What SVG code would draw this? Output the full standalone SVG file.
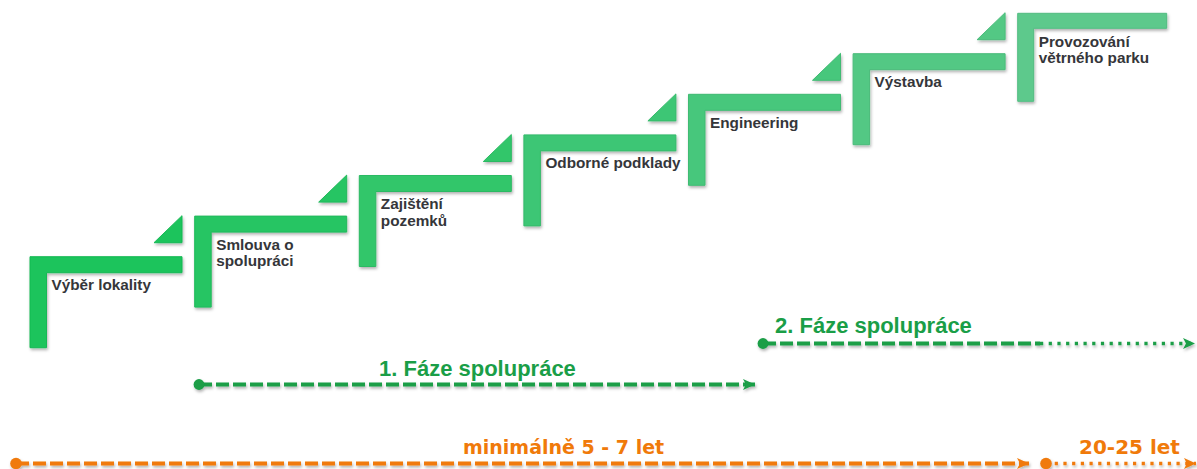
<svg xmlns="http://www.w3.org/2000/svg" width="1197" height="469" viewBox="0 0 1197 469">
  <defs>
    <filter id="sh" x="-10%" y="-20%" width="120%" height="160%">
      <feDropShadow dx="1" dy="2" stdDeviation="1.4" flood-color="#000" flood-opacity="0.3"/>
    </filter>
    <marker id="arrG" markerUnits="userSpaceOnUse" markerWidth="13" markerHeight="12" refX="12" refY="5.5" orient="auto">
      <path d="M0,0 L12,5.5 L0,11 L3,5.5 Z" fill="#1A9E47"/>
    </marker>
    <marker id="arrO" markerUnits="userSpaceOnUse" markerWidth="13" markerHeight="12" refX="12" refY="5.5" orient="auto">
      <path d="M0,0 L12,5.5 L0,11 L3,5.5 Z" fill="#F07A0A"/>
    </marker>
  </defs>
  <style>
    .step { filter: url(#sh); stroke-width: 1; }
    .lbl { font-family: "Liberation Sans", Arial, sans-serif; font-weight: bold; font-size: 15.3px; fill: #35363a; }
    .phase { font-family: "Liberation Sans", Arial, sans-serif; font-weight: bold; font-size: 22px; fill: #1A9E47; }
    .time { font-family: "DejaVu Sans", sans-serif; font-weight: bold; fill: #F07A0A; }
    .g { stroke: #1A9E47; stroke-width: 4; fill: none; }
    .o { stroke: #F07A0A; stroke-width: 4; fill: none; }
    .dash { stroke-dasharray: 13 4; }
    .dot { stroke-dasharray: 3.2 5.5; stroke-width: 3.4; }
    .tl { filter: url(#sh); }
  </style>

  <g id="step1" transform="translate(30,256.7)">
    <path class="step" fill="#1BC45B" stroke="#19B955" d="M0,0 H152 V16 H16.5 V91 H0 Z M152,-41 V-14 H124 Z"/>
    <text class="lbl" x="21.5" y="33.5">Výběr lokality</text>
  </g>
  <g id="step2" transform="translate(194.7,216.1)">
    <path class="step" fill="#26C563" stroke="#22B95C" d="M0,0 H152 V16 H16.5 V91 H0 Z M152,-41 V-14 H124 Z"/>
    <text class="lbl" x="21.5" y="33.5">Smlouva o</text>
    <text class="lbl" x="21.5" y="50">spolupráci</text>
  </g>
  <g id="step3" transform="translate(359.3,175.5)">
    <path class="step" fill="#31C66B" stroke="#2CBA63" d="M0,0 H152 V16 H16.5 V91 H0 Z M152,-41 V-14 H124 Z"/>
    <text class="lbl" x="21.5" y="33.5">Zajištění</text>
    <text class="lbl" x="21.5" y="50">pozemků</text>
  </g>
  <g id="step4" transform="translate(523.9,134.9)">
    <path class="step" fill="#3CC674" stroke="#36BA6B" d="M0,0 H152 V16 H16.5 V91 H0 Z M152,-41 V-14 H124 Z"/>
    <text class="lbl" x="21.5" y="33.5">Odborné podklady</text>
  </g>
  <g id="step5" transform="translate(688.5,94.3)">
    <path class="step" fill="#47C77C" stroke="#40BB73" d="M0,0 H152 V16 H16.5 V91 H0 Z M152,-41 V-14 H124 Z"/>
    <text class="lbl" x="21.5" y="33.5">Engineering</text>
  </g>
  <g id="step6" transform="translate(853.1,53.7)">
    <path class="step" fill="#52C884" stroke="#4ABC7B" d="M0,0 H152 V16 H16.5 V91 H0 Z M152,-41 V-14 H124 Z"/>
    <text class="lbl" x="21.5" y="33.5">Výstavba</text>
  </g>
  <g id="step7" transform="translate(1017.7,13.3)">
    <path class="step" fill="#5DC98C" stroke="#53BD82" d="M0,0 H149 V15 H16 V88 H0 Z"/>
    <text class="lbl" x="21" y="33.5">Provozování</text>
    <text class="lbl" x="21" y="50">větrného parku</text>
  </g>

  <g id="connectors">
    <g id="phase1" class="tl">
      <line class="g dash" x1="199" y1="384.5" x2="755" y2="384.5" marker-end="url(#arrG)"/>
      <circle cx="199" cy="384.5" r="5.4" fill="#1A9E47"/>
    </g>
    <g id="phase2" class="tl">
      <line class="g dash" x1="763" y1="343.5" x2="1040" y2="343.5"/>
      <line class="g dot" x1="1040" y1="343.5" x2="1195" y2="343.5" marker-end="url(#arrG)"/>
      <circle cx="763" cy="343.5" r="5.4" fill="#1A9E47"/>
    </g>
    <g id="timeline" class="tl">
      <line class="o dash" x1="16" y1="463.5" x2="1029" y2="463.5" marker-end="url(#arrO)"/>
      <circle cx="16" cy="463.5" r="5.8" fill="#F07A0A"/>
      <line class="o dot" x1="1046" y1="463.5" x2="1196" y2="463.5" marker-end="url(#arrO)"/>
      <circle cx="1046" cy="463.5" r="5.8" fill="#F07A0A"/>
    </g>
  </g>

  <text class="phase" x="379" y="375.5">1. Fáze spolupráce</text>
  <text class="phase" x="775" y="333">2. Fáze spolupráce</text>
  <text class="time" x="463" y="454" font-size="19">minimálně 5 - 7 let</text>
  <text class="time" x="1079" y="453.5" font-size="20">20-25 let</text>
</svg>
